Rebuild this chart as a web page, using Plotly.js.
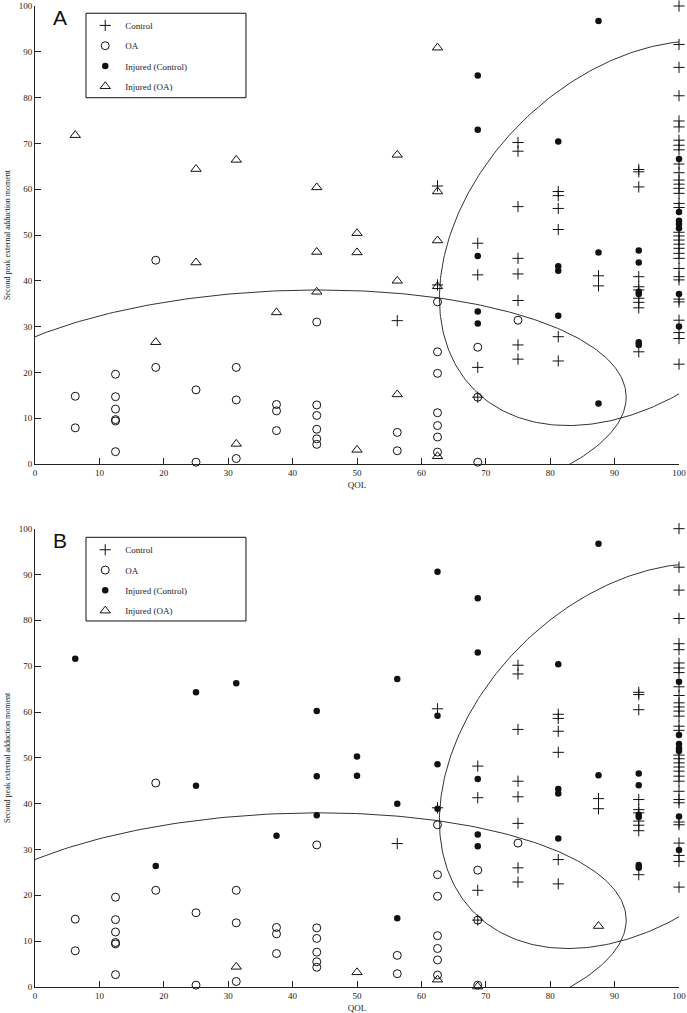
<!DOCTYPE html>
<html>
<head>
<meta charset="utf-8">
<script src="https://cdn.plot.ly/plotly-3.0.1.min.js"></script>
<style>html,body{margin:0;padding:0;background:#fff}#chart{width:687px;height:1013px}</style>
</head>
<body>
<div id="chart"></div>
<script>
// ---------- data ----------
const xTicks = [0, 10, 20, 30, 40, 50, 60, 70, 80, 90, 100];
const yTicks = [0, 10, 20, 30, 40, 50, 60, 70, 80, 90, 100];
const seriesNames = ['Control', 'OA', 'Injured (Control)', 'Injured (OA)'];

// Control (+) - same in both panels
const controlX = [56.25, 62.5, 62.5,
  68.75, 68.75, 68.75, 68.75,
  75, 75, 75, 75, 75, 75, 75, 75,
  81.25, 81.25, 81.25, 81.25, 81.25, 81.25,
  87.5, 87.5,
  93.75, 93.75, 93.75, 93.75, 93.75, 93.75, 93.75, 93.75, 93.75, 93.75,
  100, 100, 100, 100, 100, 100, 100, 100, 100, 100, 100, 100, 100, 100, 100, 100, 100,
  100, 100, 100, 100, 100, 100, 100, 100, 100, 100, 100, 100, 100, 100, 100, 100];
const controlY = [31.3, 60.7, 39.1,
  48.2, 41.3, 21.1, 14.6,
  70.2, 68.3, 56.2, 44.9, 41.5, 35.7, 26.0, 22.9,
  59.5, 58.6, 55.8, 51.2, 27.8, 22.5,
  41.1, 38.9,
  64.3, 63.8, 60.5, 40.9, 38.7, 38.0, 36.2, 35.3, 34.1, 24.5,
  100, 91.6, 86.6, 80.4, 74.9, 73.6, 70.7, 69.6, 68.6, 65.5, 63.6, 62.0, 61.1, 60.2, 59.1, 56.9, 56.0,
  50.6, 49.8, 48.9, 48.0, 47.1, 46.0, 44.9, 42.7, 40.9, 40.2, 36.0, 35.4, 31.4, 28.7, 27.4, 21.8];

// OA (open circle) - same in both panels
const oaX = [6.25, 6.25,
  12.5, 12.5, 12.5, 12.5, 12.5, 12.5,
  18.75, 18.75, 25, 25,
  31.25, 31.25, 31.25,
  37.5, 37.5, 37.5,
  43.75, 43.75, 43.75, 43.75, 43.75, 43.75,
  56.25, 56.25,
  62.5, 62.5, 62.5, 62.5, 62.5, 62.5, 62.5,
  68.75, 68.75, 68.75, 75];
const oaY = [14.8, 7.9,
  19.6, 14.7, 12.0, 9.7, 9.4, 2.7,
  44.5, 21.1, 16.2, 0.4,
  21.1, 14.0, 1.2,
  13.0, 11.6, 7.3,
  31.0, 12.9, 10.6, 7.6, 5.5, 4.3,
  6.9, 2.9,
  35.4, 24.5, 19.8, 11.2, 8.4, 5.9, 2.6,
  25.5, 14.6, 0.4, 31.4];

// Panel A: Injured (Control)
const injCtrlAX = [68.75, 68.75, 68.75, 68.75, 68.75, 68.75,
  81.25, 81.25, 81.25, 81.25,
  87.5, 87.5, 87.5,
  93.75, 93.75, 93.75, 93.75, 93.75, 93.75,
  100, 100, 100, 100, 100, 100, 100];
const injCtrlAY = [84.8, 73.0, 45.4, 33.3, 30.7, -0.2,
  70.4, 43.2, 42.2, 32.4,
  96.7, 46.2, 13.2,
  46.6, 44.0, 37.6, 37.1, 26.6, 26.0,
  66.6, 55.0, 53.1, 52.4, 51.5, 37.1, 30.0];

// Panel A: Injured (OA)
const injOAAX = [6.25, 18.75, 25, 25, 31.25, 31.25, 37.5,
  43.75, 43.75, 43.75, 50, 50, 50,
  56.25, 56.25, 56.25, 62.5, 62.5, 62.5, 62.5, 62.5];
const injOAAY = [71.8, 26.6, 64.4, 44.0, 66.4, 4.4, 33.1,
  60.4, 46.3, 37.6, 50.4, 46.2, 3.1,
  67.5, 40.0, 15.2, 90.9, 59.5, 48.8, 38.8, 1.7];

// Panel B: Injured (Control)
const injCtrlBX = [6.25, 18.75, 25, 25, 31.25, 37.5,
  43.75, 43.75, 43.75, 50, 50,
  56.25, 56.25, 56.25, 62.5, 62.5, 62.5, 62.5,
  68.75, 68.75, 68.75, 68.75, 68.75,
  81.25, 81.25, 81.25, 81.25,
  87.5, 87.5,
  93.75, 93.75, 93.75, 93.75, 93.75, 93.75,
  100, 100, 100, 100, 100, 100, 100];
const injCtrlBY = [71.6, 26.4, 64.3, 43.9, 66.3, 33.0,
  60.2, 46.0, 37.5, 50.3, 46.1,
  67.2, 40.0, 15.0, 90.6, 59.2, 48.6, 38.9,
  84.8, 73.0, 45.4, 33.3, 30.7,
  70.4, 43.2, 42.2, 32.4,
  96.7, 46.2,
  46.6, 44.0, 37.6, 37.1, 26.6, 26.0,
  66.6, 55.0, 53.0, 52.1, 51.5, 37.2, 29.9];

// Panel B: Injured (OA)
const injOABX = [31.25, 50, 62.5, 68.75, 87.5];
const injOABY = [4.4, 3.2, 1.6, 0.1, 13.3];

// Fitted ellipses: [centre x, centre y, half-width, half-height, correlation]
const ellipseControl = [92.9, 50.4, 30.1, 42.0, 0.336];
const ellipseOA = [38.72, 12.0, 53.08, 26.0, 0.1];

// ---------- drawing ----------
function ellipsePath(p) {
  const [cx, cy, sx, sy, r] = p;
  const s = Math.sqrt(1 - r * r);
  const xs = [], ys = [];
  const n = 360;
  for (let i = 0; i <= n; i++) {
    const t = 2 * Math.PI * i / n;
    xs.push(cx + sx * Math.cos(t));
    ys.push(cy + sy * (r * Math.cos(t) + s * Math.sin(t)));
  }
  return {xs, ys};
}

const serif = 'Liberation Serif, Times New Roman, serif';
const ink = '#111';

const markerStyles = [
  {symbol: 'cross-thin', size: 8, color: ink, line: {color: ink, width: 1}},
  {symbol: 'circle-open', size: 8, color: ink, line: {color: ink, width: 1}},
  {symbol: 'circle', size: 6.5, color: ink, line: {color: ink, width: 0}},
  {symbol: 'triangle-up-open', size: 9, color: ink, line: {color: ink, width: 1}}
];

function pointTrace(name, idx, x, y, xa, ya, legend) {
  return {
    type: 'scatter', mode: 'markers', name: name, x: x, y: y,
    xaxis: xa, yaxis: ya, legend: legend, legendgroup: legend + name,
    marker: markerStyles[idx], cliponaxis: false, hoverinfo: 'x+y'
  };
}
function ellipseTrace(p, xa, ya) {
  const e = ellipsePath(p);
  return {type: 'scatter', mode: 'lines', x: e.xs, y: e.ys, xaxis: xa, yaxis: ya,
    showlegend: false, line: {color: '#333', width: 1}, hoverinfo: 'skip'};
}

const panels = [
  {xa: 'x', ya: 'y', lg: 'legend', injC: [injCtrlAX, injCtrlAY], injO: [injOAAX, injOAAY]},
  {xa: 'x2', ya: 'y2', lg: 'legend2', injC: [injCtrlBX, injCtrlBY], injO: [injOABX, injOABY]}
];
const traces = [];
panels.forEach(p => {
  traces.push(ellipseTrace(ellipseControl, p.xa, p.ya));
  traces.push(ellipseTrace(ellipseOA, p.xa, p.ya));
  traces.push(pointTrace(seriesNames[0], 0, controlX, controlY, p.xa, p.ya, p.lg));
  traces.push(pointTrace(seriesNames[1], 1, oaX, oaY, p.xa, p.ya, p.lg));
  traces.push(pointTrace(seriesNames[2], 2, p.injC[0], p.injC[1], p.xa, p.ya, p.lg));
  traces.push(pointTrace(seriesNames[3], 3, p.injO[0], p.injO[1], p.xa, p.ya, p.lg));
});

const tickFont = {family: serif, size: 9, color: '#222'};
function xAxis(anchor) {
  return {anchor: anchor, domain: [0, 1], range: [0, 100], tickvals: xTicks,
    ticktext: xTicks.map(String), ticks: 'inside', ticklen: 6, tickcolor: '#222',
    showline: true, linecolor: '#222', linewidth: 1, showgrid: false, zeroline: false,
    tickfont: tickFont, automargin: false, fixedrange: true,
    title: {text: 'QOL', font: {family: serif, size: 9, color: '#222'}, standoff: 4}};
}
function yAxis(anchor, domain) {
  return {anchor: anchor, domain: domain, range: [0, 100], tickvals: yTicks,
    ticktext: yTicks.map(String), ticks: 'inside', ticklen: 6, tickcolor: '#222',
    showline: true, linecolor: '#222', linewidth: 1, showgrid: false, zeroline: false,
    tickfont: tickFont, automargin: false, fixedrange: true,
    title: {text: 'Second peak external adduction moment',
      font: {family: serif, size: 8, color: '#222'}, standoff: 6}};
}
function legendCfg(y) {
  return {x: 0.078, y: y, xanchor: 'left', yanchor: 'top', bgcolor: 'rgba(0,0,0,0)',
    borderwidth: 0, font: {family: serif, size: 9, color: '#222'},
    traceorder: 'grouped', tracegroupgap: 1.3};
}
function boxShape(y0, y1) {
  return {type: 'rect', xref: 'paper', yref: 'paper', x0: 0.0792, x1: 0.3276,
    y0: y0, y1: y1, line: {color: '#111', width: 1}, fillcolor: 'rgba(0,0,0,0)'};
}

const layout = {
  width: 687, height: 1013,
  margin: {l: 35, r: 8, t: 6, b: 26},
  paper_bgcolor: '#fff', plot_bgcolor: '#fff',
  showlegend: true,
  xaxis: xAxis('y'),
  yaxis: yAxis('x', [0.5331, 1]),
  xaxis2: xAxis('y2'),
  yaxis2: yAxis('x2', [0, 0.4672]),
  legend: legendCfg(0.995),
  legend2: legendCfg(0.4605),
  shapes: [boxShape(0.9065, 0.9926), boxShape(0.3731, 0.4584)],
  annotations: [
    {text: 'A', xref: 'paper', yref: 'paper', x: 0.0388, y: 0.9883, xanchor: 'center',
      yanchor: 'middle', showarrow: false, font: {family: 'Liberation Sans, Arial, sans-serif', size: 21, color: '#111'}},
    {text: 'B', xref: 'paper', yref: 'paper', x: 0.0388, y: 0.4552, xanchor: 'center',
      yanchor: 'middle', showarrow: false, font: {family: 'Liberation Sans, Arial, sans-serif', size: 21, color: '#111'}}
  ]
};

Plotly.newPlot('chart', traces, layout, {displayModeBar: false, responsive: false});
</script>
</body>
</html>
